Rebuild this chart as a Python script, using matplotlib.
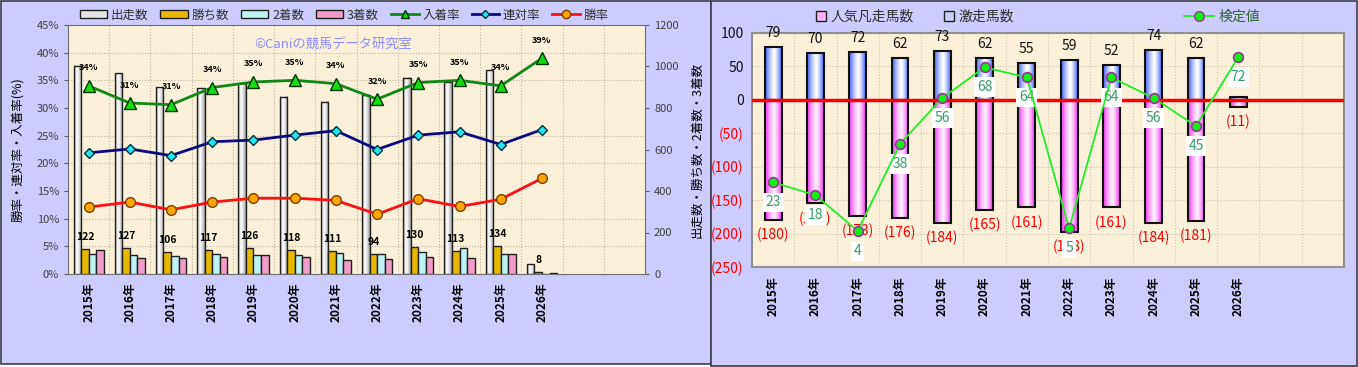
import numpy as np
import matplotlib
matplotlib.use('Agg')
import matplotlib.pyplot as plt
from matplotlib.patches import Rectangle, Patch
from matplotlib.lines import Line2D
from matplotlib.colors import to_rgb

plt.rcParams['font.family'] = ['Noto Sans CJK JP', 'DejaVu Sans']

# ---- data: left panel ----
years = ['2015年', '2016年', '2017年', '2018年', '2019年', '2020年',
         '2021年', '2022年', '2023年', '2024年', '2025年', '2026年']
starts = [1004, 967, 900, 896, 919, 855, 829, 863, 946, 927, 983, 46]
wins = [122, 127, 106, 117, 126, 118, 111, 94, 130, 113, 134, 8]
seconds = [96, 90, 87, 96, 92, 93, 101, 98, 106, 124, 95, 2]
thirds = [117, 77, 77, 80, 92, 83, 69, 74, 83, 77, 95, 3]
place_rate = [34.0, 30.9, 30.6, 33.7, 34.7, 35.0, 34.4, 31.6, 34.6, 35.0, 34.0, 39.0]
quinella_rate = [21.9, 22.6, 21.4, 23.9, 24.2, 25.1, 25.9, 22.5, 25.1, 25.7, 23.4, 26.1]
win_rate = [12.1, 13.0, 11.6, 13.0, 13.7, 13.7, 13.3, 10.8, 13.6, 12.2, 13.5, 17.3]

# ---- data: right panel ----
hot_runs = [79, 70, 72, 62, 73, 62, 55, 59, 52, 74, 62, 4]
fav_flops = [180, 155, 173, 176, 184, 165, 161, 198, 161, 184, 181, 11]
test_values = [23, 18, 4, 38, 56, 68, 64, 5, 64, 56, 45, 72]

N_SLOTS = 14
W, H = 1358, 367


def gradient_fill(ax, rect, edge, center, peak=0.45):
    # fill a bar with a horizontal edge->center->edge gradient
    x0, y0 = rect.get_x(), rect.get_y()
    w, h = rect.get_width(), rect.get_height()
    t = np.linspace(0, 1, 64)
    prof = np.where(t < peak, (peak - t) / peak, (t - peak) / (1 - peak)) ** 1.3
    e, c = np.array(to_rgb(edge)), np.array(to_rgb(center))
    cols = c + (e - c) * prof[:, None]
    ax.imshow(cols[None, :, :], extent=[x0, x0 + w, y0, y0 + h], aspect='auto',
              interpolation='bilinear', zorder=rect.get_zorder() - 0.1)


fig = plt.figure(figsize=(W / 100, H / 100), dpi=100)
fig.patch.set_facecolor('white')
fig.patches.append(Rectangle((0.5 / W, 1 - 364 / H), 710 / W, 363 / H, transform=fig.transFigure,
                             fc='#CCCCFF', ec='#3C3C4C', lw=1.2, zorder=-1))
fig.patches.append(Rectangle((711 / W, 1 - 366 / H), 646 / W, 365 / H, transform=fig.transFigure,
                             fc='#CCCCFF', ec='#3C3C4C', lw=1.2, zorder=-1))

# ================= left panel =================
ax = fig.add_axes([68 / W, 1 - 274 / H, 577 / W, 249 / H])
ax.set_facecolor('#FBF1DA')
ax_r = ax.twinx()

x = np.arange(len(years))
bw = 0.183
bars = ax.bar(x - 1.5 * bw, starts, bw, facecolor='none', edgecolor='#202020', lw=1, zorder=3)
for r in bars:
    gradient_fill(ax, r, '#9A9A9A', '#FFFFFF', peak=0.4)
ax.bar(x - 0.5 * bw, wins, bw, color='#E8B800', edgecolor='#202020', lw=1, zorder=3)
ax.bar(x + 0.5 * bw, seconds, bw, color='#BDF3F3', edgecolor='#202020', lw=1, zorder=3)
ax.bar(x + 1.5 * bw, thirds, bw, color='#F19CC9', edgecolor='#202020', lw=1, zorder=3)
for xi, v in zip(x, wins):
    ax.annotate(str(v), (xi - 0.5 * bw, v), xytext=(0, 12), textcoords='offset pixels',
                ha='center', va='center', fontsize=7.5, fontweight='bold', zorder=6)

ax.set_xlim(-0.5, N_SLOTS - 0.5)
ax.set_ylim(0, 1200)
ax.set_yticks(range(0, 1201, 200))
ax.yaxis.tick_right()
ax.yaxis.set_label_position('right')
ax.set_ylabel('出走数・勝ち数・2着数・3着数', fontsize=9)
ax.yaxis.set_label_coords(1.078, 0.5)
ax.set_xticks(range(N_SLOTS))
ax.set_xticklabels(years + [''] * (N_SLOTS - len(years)), rotation=90, fontsize=8.5,
                   fontweight='bold')
ax.set_yticks(np.arange(0, 1201, 1200 / 9), minor=True)
ax.set_xticks(np.arange(-0.5, N_SLOTS, 1), minor=True)
ax.grid(which='minor', color='#BDB49E', ls=':', lw=0.8)
ax.set_axisbelow(True)
ax.tick_params(axis='x', which='both', length=0, pad=6)
ax.tick_params(axis='y', which='minor', length=0)
ax.tick_params(axis='y', which='major', length=3, labelsize=8, labelcolor='#404040', color='#606060')
for s in ax.spines.values():
    s.set_color('#707070')

ax_r.plot(x, place_rate, color='#118811', lw=2, marker='^', ms=8, mfc='#11DD11', mec='#003300',
          zorder=5, label='入着率')
ax_r.plot(x, quinella_rate, color='#0A0A80', lw=2, marker='D', ms=5.5, mfc='#22E5F0', mec='#003040',
          zorder=5, label='連対率')
ax_r.plot(x, win_rate, color='#FF1010', lw=2, marker='o', ms=7, mfc='#FFA500', mec='#804000',
          zorder=5, label='勝率')
for xi, v in zip(x, place_rate):
    ax_r.annotate(f'{v:.0f}%', (xi, v), xytext=(0, 18), textcoords='offset pixels',
                  ha='center', va='center', fontsize=6.5, fontweight='bold')
ax_r.set_ylim(0, 45)
ax_r.set_yticks(range(0, 46, 5))
ax_r.set_yticklabels([f'{v}%' for v in range(0, 46, 5)])
ax_r.yaxis.tick_left()
ax_r.yaxis.set_label_position('left')
ax_r.set_ylabel('勝率・連対率・入着率(%)', fontsize=9)
ax_r.yaxis.set_label_coords(-0.076, 0.5)
ax_r.tick_params(axis='y', length=3, labelsize=8, labelcolor='#404040', color='#606060')
for s in ax_r.spines.values():
    s.set_visible(False)

fig.text(333 / W, 1 - 44 / H, '©Caniの競馬データ研究室', color='#8C8CFF', fontsize=9.5,
         ha='center', va='center')

left_handles = [
    Patch(fc='#E4E4E4', ec='#202020'), Patch(fc='#E8B800', ec='#202020'),
    Patch(fc='#BDF3F3', ec='#202020'), Patch(fc='#F19CC9', ec='#202020'),
    Line2D([], [], color='#118811', lw=2, marker='^', ms=6, mfc='#11DD11', mec='#003300'),
    Line2D([], [], color='#0A0A80', lw=2, marker='D', ms=4.5, mfc='#22E5F0', mec='#003040'),
    Line2D([], [], color='#FF1010', lw=2, marker='o', ms=6, mfc='#FFA500', mec='#804000'),
]
fig.legend(left_handles, ['出走数', '勝ち数', '2着数', '3着数', '入着率', '連対率', '勝率'],
           loc='center', bbox_to_anchor=(344 / W, 1 - 15 / H), ncol=7, frameon=False,
           fontsize=9, handlelength=2.2, handleheight=0.6, columnspacing=0.95, handletextpad=0.3,
           labelcolor='#303030')

# ================= right panel =================
ax3 = fig.add_axes([752 / W, 1 - 267 / H, 592 / W, 234 / H])
ax3.set_facecolor('#FBF1DA')
x2 = np.arange(len(hot_runs))
bw2 = 0.4
up = ax3.bar(x2, hot_runs, bw2, facecolor='none', edgecolor='#101010', lw=1.5, zorder=3)
for r in up:
    gradient_fill(ax3, r, '#3E5CF5', '#FFFFFF', peak=0.55)
down = ax3.bar(x2, [-v for v in fav_flops], bw2, facecolor='none', edgecolor='#101010', lw=1.5,
               zorder=3)
for r in down:
    gradient_fill(ax3, r, '#F030F0', '#FFF0FF', peak=0.55)
ax3.axhline(0, color='#FF0000', lw=2.5, zorder=4)
for xi, v in zip(x2, hot_runs):
    ax3.annotate(str(v), (xi, v), xytext=(0, 14), textcoords='offset pixels',
                 ha='center', va='center', fontsize=10, color='#111111')
for xi, v in zip(x2, fav_flops):
    ax3.annotate(f'({v})', (xi, -v), xytext=(0, -15), textcoords='offset pixels',
                 ha='center', va='center', fontsize=10, color='#FF0000')

ax3.set_xlim(-0.5, N_SLOTS - 0.5)
ax3.set_ylim(-250, 100)
yt = list(range(-250, 101, 50))
ax3.set_yticks(yt)
ax3.set_yticklabels([str(v) if v >= 0 else f'({-v})' for v in yt], fontsize=10)
for lab, v in zip(ax3.get_yticklabels(), yt):
    lab.set_color('#111111' if v >= 0 else '#FF0000')
ax3.set_xticks(range(N_SLOTS))
ax3.set_xticklabels(years + [''] * (N_SLOTS - len(years)), rotation=90, fontsize=8.5,
                    fontweight='bold')
ax3.set_xticks(np.arange(-0.5, N_SLOTS, 1), minor=True)
ax3.grid(which='major', axis='y', color='#CDC4AE', ls=':', lw=0.8)
ax3.grid(which='minor', axis='x', color='#CDC4AE', ls=':', lw=0.8)
ax3.set_axisbelow(True)
ax3.tick_params(axis='both', which='both', length=0)
ax3.tick_params(axis='x', pad=7)
ax3.tick_params(axis='y', pad=6)
for s in ax3.spines.values():
    s.set_color('#909090')
    s.set_linewidth(1.5)

ax4 = ax3.twinx()
ax4.plot(x2, test_values, color='#22EE22', lw=1.3, marker='o', ms=7, mfc='#11EE11', mec='#993399',
         mew=1.2, zorder=5)
for xi, v in zip(x2, test_values):
    ax4.annotate(str(v), (xi, v), xytext=(0, -20), textcoords='offset pixels',
                 ha='center', va='center', fontsize=10, color='#3C9A6C',
                 bbox=dict(boxstyle='square,pad=0.2', fc='white', ec='none'))
ax4.set_ylim(-10.1, 81.4)
ax4.set_yticks([])
for s in ax4.spines.values():
    s.set_visible(False)

fig.legend([Patch(fc='#FFB0FF', ec='#202020'), Patch(fc='#C8D0FF', ec='#202020')],
           ['人気凡走馬数', '激走馬数'], loc='center', bbox_to_anchor=(915 / W, 1 - 17 / H),
           ncol=2, frameon=False, fontsize=10, handlelength=0.7, handleheight=0.7,
           columnspacing=2.2, handletextpad=0.3, labelcolor='#303030')
fig.legend([Line2D([], [], color='#22EE22', lw=1.3, marker='o', ms=7, mfc='#11EE11', mec='#993399')],
           ['検定値'], loc='center', bbox_to_anchor=(1222 / W, 1 - 17 / H), frameon=False,
           fontsize=10, handlelength=2.2, handletextpad=0.3, labelcolor='#336633')

fig.savefig('out.png', dpi=100, facecolor=fig.get_facecolor())
